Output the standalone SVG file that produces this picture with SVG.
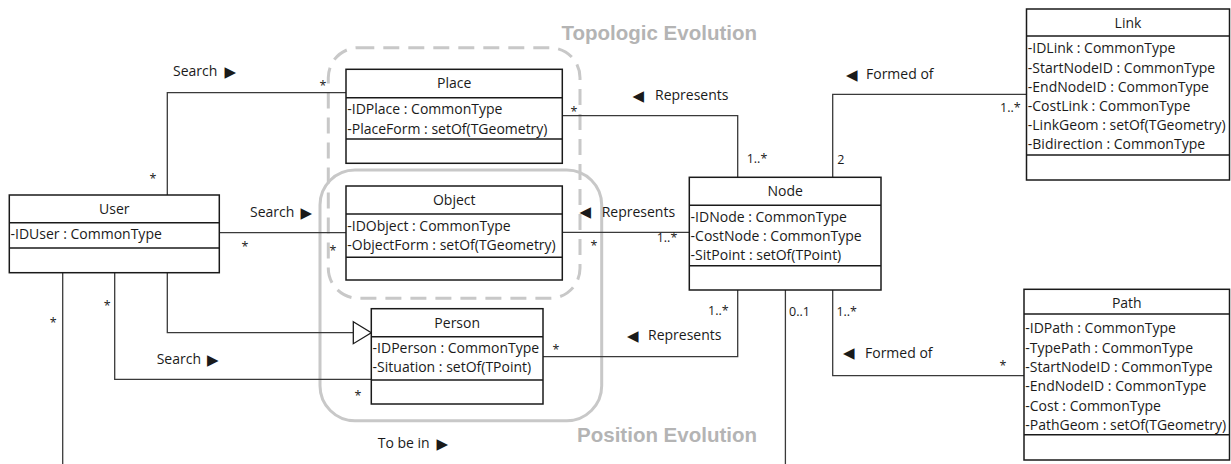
<svg xmlns="http://www.w3.org/2000/svg" width="1231" height="464" viewBox="0 0 1231 464">
  <style>
    text { font-family: "Open Sans", "Liberation Sans", sans-serif; font-size: 14px; fill: #1a1a1a; }
    .hdr { text-anchor: middle; }
    .mult { font-size: 12.5px; }
    .mid { text-anchor: middle; }
    .sym { font-family: "DejaVu Sans", sans-serif; font-size: 15px; }
    .box { fill: #fff; stroke: #1a1a1a; stroke-width: 1.5; }
    .sep { stroke: #1a1a1a; stroke-width: 1.5; }
    .conn { fill: none; stroke: #3a3a3a; stroke-width: 1.3; }
    .region { fill: none; stroke: #c8c8c8; stroke-width: 3; }
    .dashed { stroke-dasharray: 16 9; }
    .title { font-family: "Liberation Sans", Arial, sans-serif; font-weight: bold; font-size: 20.5px; fill: #b4b4b4; text-anchor: end; }
  </style>

  <!-- evolution regions -->
  <g id="regions">
    <rect class="region dashed" x="328.3" y="47.7" width="251.7" height="250.6" rx="30"/>
    <rect class="region" x="320" y="170" width="281.7" height="250.7" rx="35"/>
    <text class="title" x="757" y="40">Topologic Evolution</text>
    <text class="title" x="757" y="441.5">Position Evolution</text>
  </g>

  <!-- associations -->
  <g id="connectors">
    <!-- User - Place : Search -->
    <polyline class="conn" points="167.3,195 167.3,92.7 346,92.7"/>
    <!-- User - Object : Search -->
    <polyline class="conn" points="219.3,232.7 346,232.7"/>
    <!-- User - Person : generalization -->
    <polyline class="conn" points="167.3,273 167.3,332.7 353.3,332.7"/>
    <polygon points="353.3,321.7 371.3,332.7 353.3,343.7" fill="#fff" stroke="#1a1a1a" stroke-width="1.3"/>
    <!-- User - Person : Search -->
    <polyline class="conn" points="114.7,273 114.7,379.3 371.3,379.3"/>
    <!-- User - Node : To be in -->
    <polyline class="conn" points="62.7,273 62.7,464"/>
    <polyline class="conn" points="785.4,290 785.4,464"/>
    <!-- Place - Node : Represents -->
    <polyline class="conn" points="562.3,115.7 737.7,115.7 737.7,177.3"/>
    <!-- Object - Node : Represents -->
    <polyline class="conn" points="562,232.4 689.3,232.4"/>
    <!-- Person - Node : Represents -->
    <polyline class="conn" points="543,356.7 737.7,356.7 737.7,290"/>
    <!-- Node - Link : Formed of -->
    <polyline class="conn" points="832.7,177.3 832.7,94.3 1026.5,94.3"/>
    <!-- Node - Path : Formed of -->
    <polyline class="conn" points="832.7,290 832.7,375.7 1024,375.7"/>

    <!-- association names -->
    <text x="173" y="76">Search</text><text class="sym" x="224.5" y="76.5">▶</text>
    <text x="250" y="217">Search</text><text class="sym" x="300.5" y="217.5">▶</text>
    <text x="156.7" y="364">Search</text><text class="sym" x="207" y="364.5">▶</text>
    <text x="377.7" y="448">To be in</text><text class="sym" x="436.5" y="448.5">▶</text>
    <text class="sym" x="632.5" y="100.5">◀</text><text x="655" y="100">Represents</text>
    <text class="sym" x="579.5" y="217">◀</text><text x="601.7" y="216.7">Represents</text>
    <text class="sym" x="627" y="340.5">◀</text><text x="648" y="340">Represents</text>
    <text class="sym" x="846" y="79.5">◀</text><text x="866" y="79">Formed of</text>
    <text class="sym" x="843" y="358.2">◀</text><text x="865" y="357.7">Formed of</text>

    <!-- multiplicities -->
    <text class="mult mid" x="153" y="183">*</text>
    <text class="mult mid" x="323" y="90">*</text>
    <text class="mult mid" x="245" y="251">*</text>
    <text class="mult mid" x="333" y="255">*</text>
    <text class="mult mid" x="107.3" y="310">*</text>
    <text class="mult mid" x="53.3" y="327">*</text>
    <text class="mult mid" x="358" y="400">*</text>
    <text class="mult mid" x="574" y="116">*</text>
    <text class="mult mid" x="594" y="250">*</text>
    <text class="mult mid" x="556" y="354">*</text>
    <text class="mult mid" x="1003" y="370">*</text>
    <text class="mult" x="746.7" y="163">1..*</text>
    <text class="mult" x="656.7" y="241.5">1..*</text>
    <text class="mult" x="708" y="315">1..*</text>
    <text class="mult" x="789" y="316">0..1</text>
    <text class="mult" x="836.4" y="316">1..*</text>
    <text class="mult" x="837.3" y="164">2</text>
    <text class="mult" x="1000" y="112">1..*</text>
  </g>

  <!-- classes -->
  <g id="user">
    <rect class="box" x="9.3" y="195" width="210" height="77.7"/>
    <line class="sep" x1="9.3" y1="222.7" x2="219.3" y2="222.7"/>
    <line class="sep" x1="9.3" y1="248" x2="219.3" y2="248"/>
    <text class="hdr" x="114.3" y="214">User</text>
    <text x="10.5" y="239">-IDUser : CommonType</text>
  </g>

  <g id="place">
    <rect class="box" x="346" y="69.3" width="216.3" height="94"/>
    <line class="sep" x1="346" y1="97.7" x2="562.3" y2="97.7"/>
    <line class="sep" x1="346" y1="139" x2="562.3" y2="139"/>
    <text class="hdr" x="454.2" y="88">Place</text>
    <text x="347.3" y="113.5">-IDPlace : CommonType</text>
    <text x="347.3" y="133.5">-PlaceForm : setOf(TGeometry)</text>
  </g>

  <g id="object">
    <rect class="box" x="346" y="186" width="216.3" height="94"/>
    <line class="sep" x1="346" y1="214" x2="562.3" y2="214"/>
    <line class="sep" x1="346" y1="257.3" x2="562.3" y2="257.3"/>
    <text class="hdr" x="454.2" y="205">Object</text>
    <text x="347.3" y="230.7">-IDObject : CommonType</text>
    <text x="347.3" y="250">-ObjectForm : setOf(TGeometry)</text>
  </g>

  <g id="person">
    <rect class="box" x="371.3" y="308.7" width="171.7" height="95.3"/>
    <line class="sep" x1="371.3" y1="336.7" x2="543" y2="336.7"/>
    <line class="sep" x1="371.3" y1="380" x2="543" y2="380"/>
    <text class="hdr" x="457.2" y="328.3">Person</text>
    <text x="372.6" y="353.3">-IDPerson : CommonType</text>
    <text x="372.6" y="371.7">-Situation : setOf(TPoint)</text>
  </g>

  <g id="node">
    <rect class="box" x="689.3" y="177.3" width="191.7" height="112.7"/>
    <line class="sep" x1="689.3" y1="205.3" x2="881" y2="205.3"/>
    <line class="sep" x1="689.3" y1="265.7" x2="881" y2="265.7"/>
    <text class="hdr" x="785.2" y="196">Node</text>
    <text x="690.6" y="221.7">-IDNode : CommonType</text>
    <text x="690.6" y="241">-CostNode : CommonType</text>
    <text x="690.6" y="260">-SitPoint : setOf(TPoint)</text>
  </g>

  <g id="link">
    <rect class="box" x="1026.5" y="9" width="203" height="171"/>
    <line class="sep" x1="1026.5" y1="36" x2="1229.5" y2="36"/>
    <line class="sep" x1="1026.5" y1="155" x2="1229.5" y2="155"/>
    <text class="hdr" x="1128" y="28">Link</text>
    <text x="1027.8" y="53.3">-IDLink : CommonType</text>
    <text x="1027.8" y="72.5">-StartNodeID : CommonType</text>
    <text x="1027.8" y="91.7">-EndNodeID : CommonType</text>
    <text x="1027.8" y="110.9">-CostLink : CommonType</text>
    <text x="1027.8" y="130.1">-LinkGeom : setOf(TGeometry)</text>
    <text x="1027.8" y="149.3">-Bidirection : CommonType</text>
  </g>

  <g id="path">
    <rect class="box" x="1024" y="289.3" width="205.5" height="170.7"/>
    <line class="sep" x1="1024" y1="314" x2="1229.5" y2="314"/>
    <line class="sep" x1="1024" y1="434.7" x2="1229.5" y2="434.7"/>
    <text class="hdr" x="1126.8" y="307.5">Path</text>
    <text x="1025.3" y="333.3">-IDPath : CommonType</text>
    <text x="1025.3" y="352.6">-TypePath : CommonType</text>
    <text x="1025.3" y="371.9">-StartNodeID : CommonType</text>
    <text x="1025.3" y="391.2">-EndNodeID : CommonType</text>
    <text x="1025.3" y="410.5">-Cost : CommonType</text>
    <text x="1025.3" y="429.8">-PathGeom : setOf(TGeometry)</text>
  </g>
</svg>
